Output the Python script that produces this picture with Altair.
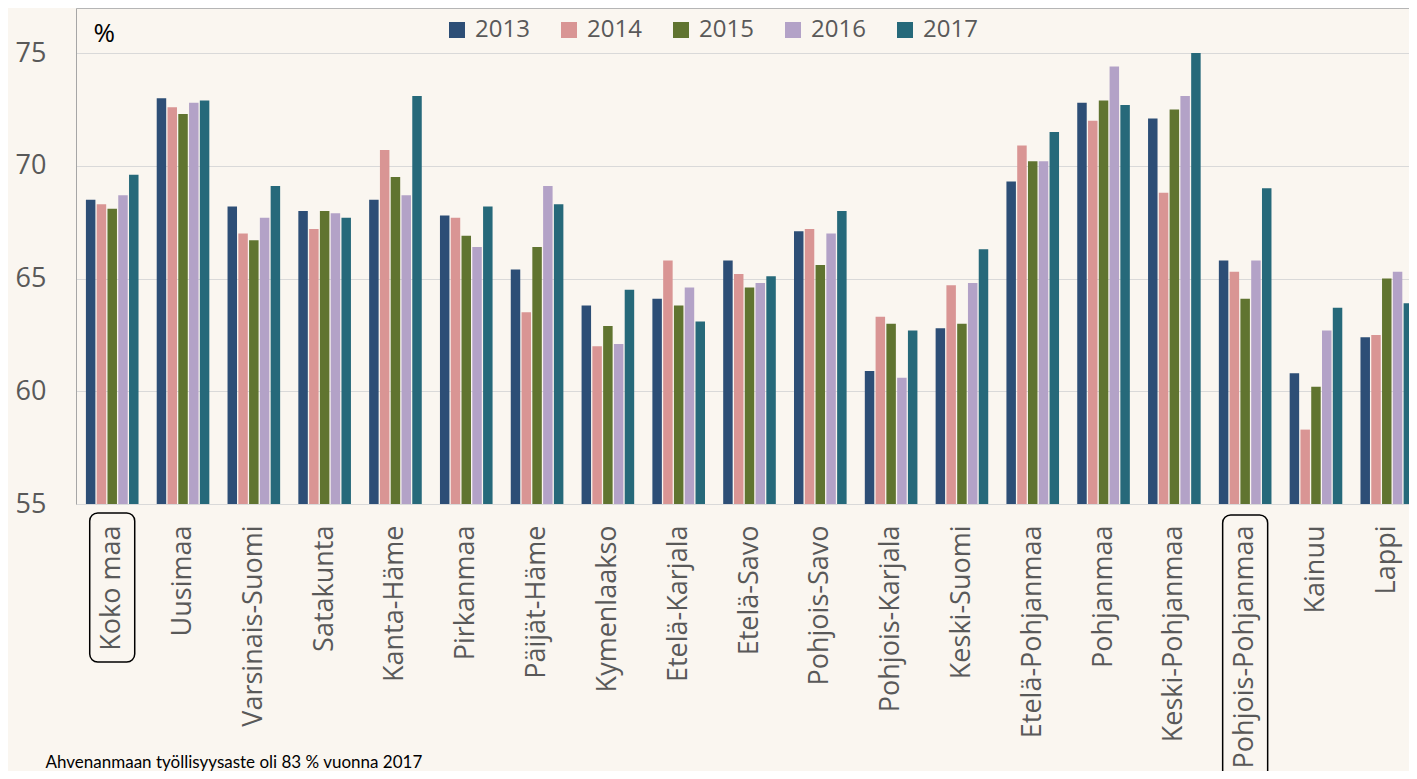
import altair as alt
import pandas as pd

regions = ["Koko maa", "Uusimaa", "Varsinais-Suomi", "Satakunta", "Kanta-Häme",
           "Pirkanmaa", "Päijät-Häme", "Kymenlaakso", "Etelä-Karjala", "Etelä-Savo",
           "Pohjois-Savo", "Pohjois-Karjala", "Keski-Suomi", "Etelä-Pohjanmaa",
           "Pohjanmaa", "Keski-Pohjanmaa", "Pohjois-Pohjanmaa", "Kainuu", "Lappi"]
years = ["2013", "2014", "2015", "2016", "2017"]

v2013 = [68.5, 73.0, 68.2, 68.0, 68.5, 67.8, 65.4, 63.8, 64.1, 65.8, 67.1, 60.9, 62.8, 69.3, 72.8, 72.1, 65.8, 60.8, 62.4]
v2014 = [68.3, 72.6, 67.0, 67.2, 70.7, 67.7, 63.5, 62.0, 65.8, 65.2, 67.2, 63.3, 64.7, 70.9, 72.0, 68.8, 65.3, 58.3, 62.5]
v2015 = [68.1, 72.3, 66.7, 68.0, 69.5, 66.9, 66.4, 62.9, 63.8, 64.6, 65.6, 63.0, 63.0, 70.2, 72.9, 72.5, 64.1, 60.2, 65.0]
v2016 = [68.7, 72.8, 67.7, 67.9, 68.7, 66.4, 69.1, 62.1, 64.6, 64.8, 67.0, 60.6, 64.8, 70.2, 74.4, 73.1, 65.8, 62.7, 65.3]
v2017 = [69.6, 72.9, 69.1, 67.7, 73.1, 68.2, 68.3, 64.5, 63.1, 65.1, 68.0, 62.7, 66.3, 71.5, 72.7, 75.0, 69.0, 63.7, 63.9]

highlighted = ["Koko maa", "Pohjois-Pohjanmaa"]
footnote = "Ahvenanmaan työllisyysaste oli 83 % vuonna 2017"
unit_label = "%"

colors = ["#2d4e76", "#d99594", "#607430", "#b3a2c7", "#26697a"]

series = dict(zip(years, [v2013, v2014, v2015, v2016, v2017]))
rows = []
for i, r in enumerate(regions):
    for y in years:
        rows.append({"region": r, "year": y, "value": series[y][i]})
df = pd.DataFrame(rows)
box_df = pd.DataFrame({"region": highlighted})

GRAY = "#595959"
FONT = "Open Sans"

x_scale = alt.Scale(domain=regions, range=[0, 1347], paddingInner=0.257, paddingOuter=0.14)
x_axis = alt.Axis(
    title=footnote, titleX=-31, titleY=263, titleAlign="left", titleAngle=0,
    titleBaseline="alphabetic", titleFont="Lato", titleFontSize=17,
    titleFontWeight="normal", titleColor="black",
    labelAngle=-90, labelFontSize=27, labelFont=FONT, labelColor=GRAY,
    labelPadding=21, labelLimit=400, labelOverlap=False,
    ticks=False, domainColor="#d9d9d9", grid=False,
)

bars = alt.Chart(df).mark_bar().encode(
    x=alt.X("region:N", scale=x_scale, axis=x_axis),
    xOffset=alt.XOffset("year:N", scale=alt.Scale(domain=years, paddingInner=0.12)),
    y=alt.Y("value:Q",
            scale=alt.Scale(domain=[55, 77], nice=False, zero=False),
            axis=alt.Axis(
                values=[55, 60, 65, 70, 75, 77],
                labelExpr="datum.value == 77 ? '' : datum.label",
                grid=True,
                gridColor={"condition": {"test": "datum.value == 77", "value": "#b5b5b5"}, "value": "#d9d9d9"},
                ticks=False, domainColor="#a6a6a6",
                labelFontSize=27, labelFont=FONT, labelColor=GRAY, labelPadding=30,
                title=unit_label, titleAngle=0, titleX=17, titleY=33,
                titleAlign="left", titleBaseline="alphabetic",
                titleFontSize=26, titleFont=FONT, titleFontWeight="normal", titleColor="black",
            )),
    y2=alt.datum(55),
    color=alt.Color("year:N", scale=alt.Scale(domain=years, range=colors),
                    legend=alt.Legend(orient="none", legendX=369, legendY=10,
                                      direction="horizontal", columns=5, title=None,
                                      symbolType="square", symbolSize=256, symbolStrokeWidth=0,
                                      labelFontSize=24, labelFont=FONT, labelColor=GRAY,
                                      labelOffset=6, columnPadding=27, padding=0)),
)

box1 = alt.Chart(box_df).transform_filter(alt.datum.region == highlighted[0]).mark_bar(
    width=45, fillOpacity=0, stroke="black", strokeWidth=1.5, cornerRadius=8
).encode(
    x=alt.X("region:N", scale=x_scale, axis=x_axis),
    y=alt.value(505), y2=alt.value(654),
)
box2 = alt.Chart(box_df).transform_filter(alt.datum.region == highlighted[1]).mark_bar(
    width=45, fillOpacity=0, stroke="black", strokeWidth=1.5, cornerRadius=8
).encode(
    x=alt.X("region:N", scale=x_scale, axis=x_axis),
    y=alt.value(507), y2=alt.value(775),
)

chart = alt.layer(bars, box1, box2).properties(
    width=1333, height=496, background="#faf6f0",
    padding={"left": 68, "top": 0, "right": 0, "bottom": 267},
    autosize=alt.AutoSizeParams(type="none"),
).configure_view(stroke=None)

chart.save("out.html", embed_options={"renderer": "svg", "actions": False})
